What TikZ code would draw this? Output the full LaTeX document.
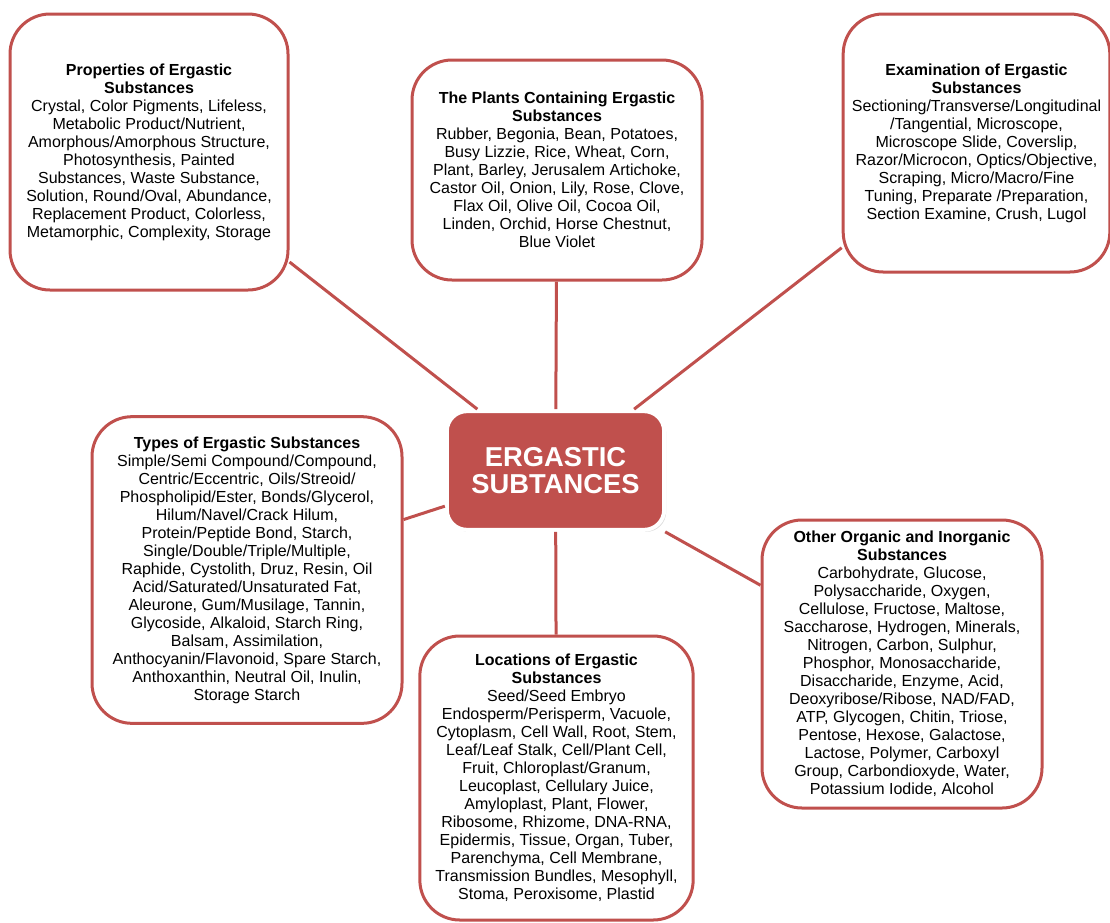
\documentclass[tikz,border=0pt]{standalone}
\usepackage{fontspec}
\setmainfont{Liberation Sans}
\usepackage{xcolor}
\usetikzlibrary{shadows}

\definecolor{ergored}{HTML}{C0504D}

\tikzset{
  topicbox/.style={draw=ergored, line width=2.25pt, rounded corners=30pt, fill=white,
    align=center, inner sep=0pt, font=\fontsize{12}{13.5}\selectfont},
  hubbox/.style={draw=white, line width=3pt, rounded corners=15pt, fill=ergored,
    text=white, align=center, inner sep=0pt, font=\fontsize{20.5}{20.5}\selectfont\bfseries,
    minimum width=163pt, minimum height=89pt,
    drop shadow={opacity=0.3, shadow xshift=1.5pt, shadow yshift=-1.5pt}},
  link/.style={draw=ergored, line width=2.25pt}
}

\begin{document}
\begin{tikzpicture}[x=0.75pt, y=-0.75pt]
    \useasboundingbox (0,0) rectangle (1110,922);

    % Nodes
    \node[hubbox] (ergo) at (555.5,470.5) {ERGASTIC\\SUBTANCES};

    \node[topicbox, minimum width=208.5pt, minimum height=207pt] (props) at (149,152)
      {\textbf{Properties of Ergastic}\\\textbf{Substances}\\
       Crystal, Color Pigments, Lifeless,\\
       Metabolic Product/Nutrient,\\
       Amorphous/Amorphous Structure,\\
       Photosynthesis, Painted\\
       Substances, Waste Substance,\\
       Solution, Round/Oval, Abundance,\\
       Replacement Product, Colorless,\\
       Metamorphic, Complexity, Storage};

    \node[topicbox, minimum width=217.5pt, minimum height=165pt] (plants) at (557,170)
      {\textbf{The Plants Containing Ergastic}\\\textbf{Substances}\\
       Rubber, Begonia, Bean, Potatoes,\\
       Busy Lizzie, Rice, Wheat, Corn,\\
       Plant, Barley, Jerusalem Artichoke,\\
       Castor Oil, Onion, Lily, Rose, Clove,\\
       Flax Oil, Olive Oil, Cocoa Oil,\\
       Linden, Orchid, Horse Chestnut,\\
       Blue Violet};

    \node[topicbox, minimum width=200pt, minimum height=193.5pt] (exam) at (976.5,143)
      {\textbf{Examination of Ergastic}\\\textbf{Substances}\\
       Sectioning/Transverse/Longitudinal\\
       /Tangential, Microscope,\\
       Microscope Slide, Coverslip,\\
       Razor/Microcon, Optics/Objective,\\
       Scraping, Micro/Macro/Fine\\
       Tuning, Preparate /Preparation,\\
       Section Examine, Crush, Lugol};

    \node[topicbox, minimum width=232.5pt, minimum height=230pt] (types) at (247,570)
      {\textbf{Types of Ergastic Substances}\\
       Simple/Semi Compound/Compound,\\
       Centric/Eccentric, Oils/Streoid/\\
       Phospholipid/Ester, Bonds/Glycerol,\\
       Hilum/Navel/Crack Hilum,\\
       Protein/Peptide Bond, Starch,\\
       Single/Double/Triple/Multiple,\\
       Raphide, Cystolith, Druz, Resin, Oil\\
       Acid/Saturated/Unsaturated Fat,\\
       Aleurone, Gum/Musilage, Tannin,\\
       Glycoside, Alkaloid, Starch Ring,\\
       Balsam, Assimilation,\\
       Anthocyanin/Flavonoid, Spare Starch,\\
       Anthoxanthin, Neutral Oil, Inulin,\\
       Storage Starch};

    \node[topicbox, minimum width=205pt, minimum height=213pt] (locs) at (556.5,778)
      {\textbf{Locations of Ergastic}\\\textbf{Substances}\\
       Seed/Seed Embryo\\
       Endosperm/Perisperm, Vacuole,\\
       Cytoplasm, Cell Wall, Root, Stem,\\
       Leaf/Leaf Stalk, Cell/Plant Cell,\\
       Fruit, Chloroplast/Granum,\\
       Leucoplast, Cellulary Juice,\\
       Amyloplast, Plant, Flower,\\
       Ribosome, Rhizome, DNA-RNA,\\
       Epidermis, Tissue, Organ, Tuber,\\
       Parenchyma, Cell Membrane,\\
       Transmission Bundles, Mesophyll,\\
       Stoma, Peroxisome, Plastid};

    \node[topicbox, minimum width=210pt, minimum height=216pt] (other) at (902,664)
      {\textbf{Other Organic and Inorganic}\\\textbf{Substances}\\
       Carbohydrate, Glucose,\\
       Polysaccharide, Oxygen,\\
       Cellulose, Fructose, Maltose,\\
       Saccharose, Hydrogen, Minerals,\\
       Nitrogen, Carbon, Sulphur,\\
       Phosphor, Monosaccharide,\\
       Disaccharide, Enzyme, Acid,\\
       Deoxyribose/Ribose, NAD/FAD,\\
       ATP, Glycogen, Chitin, Triose,\\
       Pentose, Hexose, Galactose,\\
       Lactose, Polymer, Carboxyl\\
       Group, Carbondioxyde, Water,\\
       Potassium Iodide, Alcohol};

    % Connections
    \draw[link] (props) -- (ergo);
    \draw[link] (plants) -- (ergo);
    \draw[link] (exam) -- (ergo);
    \draw[link] (types) -- (ergo);
    \draw[link] (locs) -- (ergo);
    \draw[link] (other) -- (ergo);
\end{tikzpicture}
\end{document}
